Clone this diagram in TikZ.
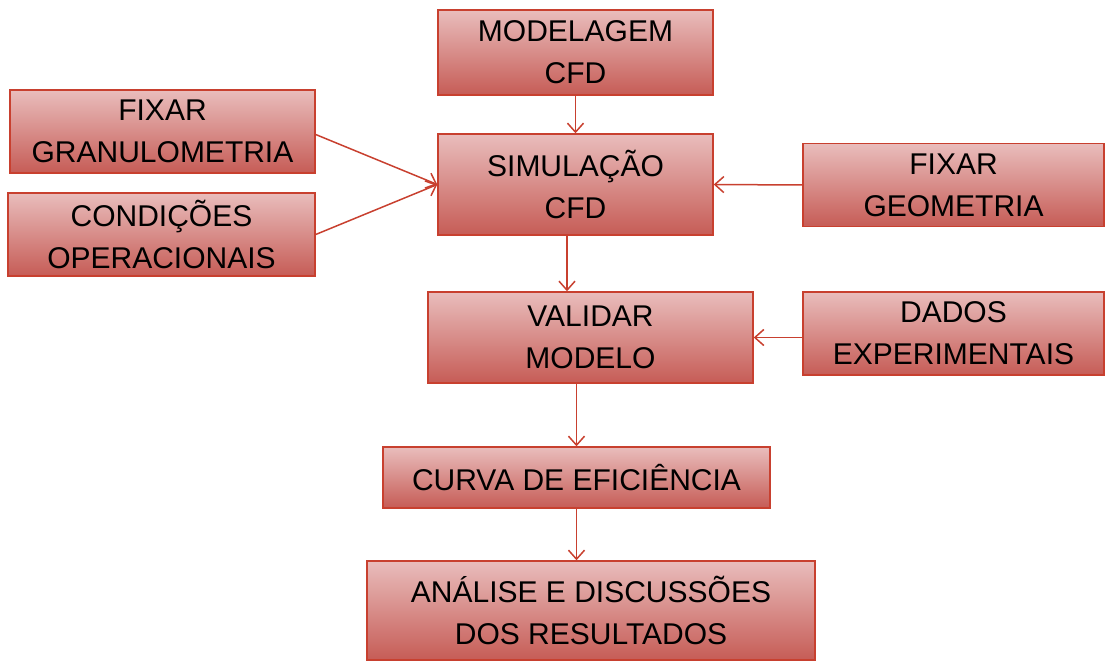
\documentclass[tikz,border=0pt]{standalone}
\usepackage{fontspec}
\setmainfont{Liberation Sans}
\usetikzlibrary{arrows.meta,calc}
\definecolor{edge}{HTML}{C8402F}
\definecolor{topc}{HTML}{E9BDBC}
\definecolor{botc}{HTML}{C65C56}
\tikzset{
  box/.style={draw=edge, line width=1.4pt, top color=topc, bottom color=botc,
    align=center, inner sep=0pt, font=\fontsize{30}{42}\selectfont, text=black},
  arr/.style={draw=edge, line width=1.5pt, -{Straight Barb[length=9pt,width=16pt]}}
}
\begin{document}
\begin{tikzpicture}[x=1pt,y=-1pt]
\useasboundingbox (0,0) rectangle (1105,661);
\node[box, minimum width=275pt, minimum height=85pt] (mod) at (575.5,52.5) {MODELAGEM\\CFD};
\node[box, minimum width=305pt, minimum height=83pt] (gran) at (162.5,131.5) {FIXAR\\GRANULOMETRIA};
\node[box, minimum width=307pt, minimum height=83pt] (cond) at (161.5,234.5) {CONDIÇÕES\\OPERACIONAIS};
\node[box, minimum width=275pt, minimum height=101pt] (sim) at (575.5,184.5) {SIMULAÇÃO\\CFD};
\node[box, minimum width=301pt, minimum height=83pt] (geo) at (953.5,185) {FIXAR\\GEOMETRIA};
\node[box, minimum width=325pt, minimum height=91pt] (val) at (590.5,337.5) {VALIDAR\\MODELO};
\node[box, minimum width=301pt, minimum height=83pt] (dad) at (953.5,333.5) {DADOS\\EXPERIMENTAIS};
\node[box, minimum width=387pt, minimum height=61pt] (cur) at (576.5,477.5) {CURVA DE EFICIÊNCIA};
\node[box, minimum width=448pt, minimum height=99pt] (ana) at (591,610.5) {ANÁLISE E DISCUSSÕES\\DOS RESULTADOS};
\draw[arr] (mod.south) -- (sim.north);
\draw[arr] ([yshift=-3pt]gran.east) -- (sim.west);
\draw[arr] (cond.east) -- (sim.west);
\draw[arr] (geo.west) -- (sim.east);
\draw[arr] ([xshift=-8.5pt]sim.south) -- ([xshift=-8.5pt]sim.south |- val.north);
\draw[arr] (dad.west |- val.east) -- (val.east);
\draw[arr] (cur.north |- val.south) -- (cur.north);
\draw[arr] (cur.south) -- (cur.south |- ana.north);
\end{tikzpicture}
\end{document}
